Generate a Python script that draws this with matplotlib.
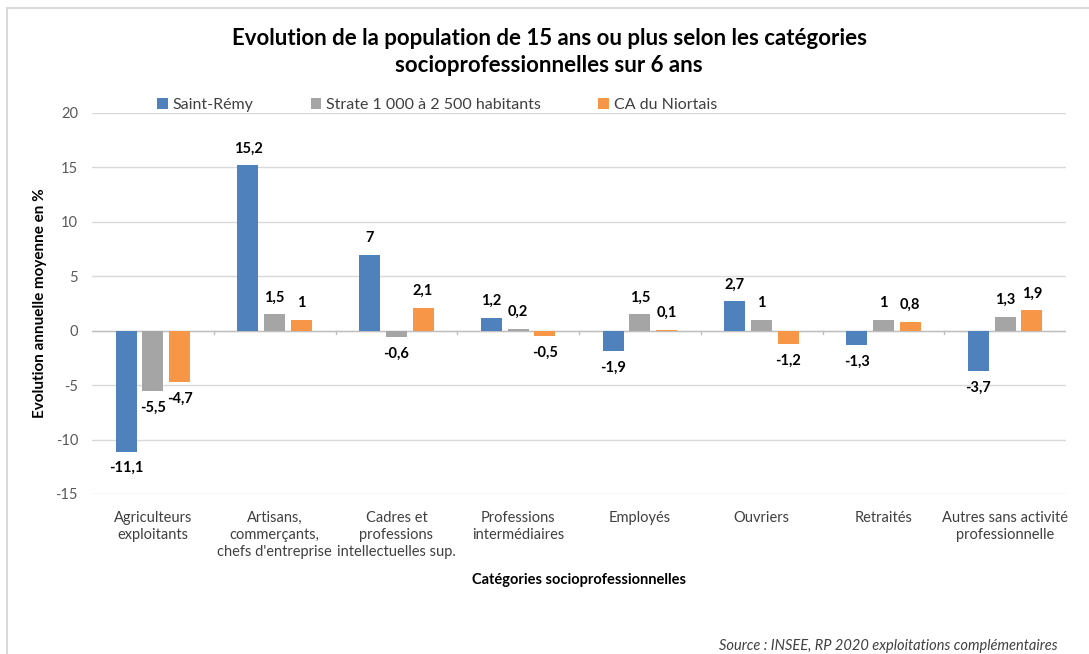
import matplotlib
matplotlib.use("Agg")
import matplotlib.pyplot as plt
import numpy as np
from matplotlib.patches import Rectangle

plt.rcParams['font.family'] = ['Lato', 'DejaVu Sans']

categories = ["Agriculteurs\nexploitants", "Artisans,\ncommerçants,\nchefs d'entreprise",
              "Cadres et\nprofessions\nintellectuelles sup.", "Professions\nintermédiaires",
              "Employés", "Ouvriers", "Retraités", "Autres sans activité\nprofessionnelle"]
series_names = ["Saint-Rémy", "Strate 1 000 à 2 500 habitants", "CA du Niortais"]
saint_remy = [-11.1, 15.2, 7, 1.2, -1.9, 2.7, -1.3, -3.7]
strate = [-5.5, 1.5, -0.6, 0.2, 1.5, 1, 1, 1.3]
ca_niortais = [-4.7, 1, 2.1, -0.5, 0.1, -1.2, 0.8, 1.9]
colors = ["#4F81BD", "#A5A5A5", "#F79646"]
yticks = [-15, -10, -5, 0, 5, 10, 15, 20]

fig = plt.figure(figsize=(10.89, 6.54), dpi=100)
fig.patches.append(Rectangle((7/1089, -0.1), 1.2, 1 - 8/654 + 0.1, transform=fig.transFigure,
                             fill=False, edgecolor="#D9D9D9", linewidth=1.5))
ax = fig.add_axes([92/1089, 1 - 494/654, (1066 - 92)/1089, (494 - 113)/654])

x = np.arange(len(categories))
width = 0.172
offs = [-0.219, 0, 0.219]
data = [saint_remy, strate, ca_niortais]

def fmt(v):
    return ("%g" % v).replace(".", ",")

for i, (vals, name, c) in enumerate(zip(data, series_names, colors)):
    ax.bar(x + offs[i], vals, width, color=c, label=name, zorder=3)
    for xi, v in zip(x + offs[i], vals):
        if v >= 0:
            ax.annotate(fmt(v), (xi, v), xytext=(0, 7), textcoords="offset points",
                        ha="center", va="bottom", fontsize=10.5, fontweight="bold", color="black")
        else:
            ax.annotate(fmt(v), (xi, v), xytext=(0, -7), textcoords="offset points",
                        ha="center", va="top", fontsize=10.5, fontweight="bold", color="black")

ax.set_xlim(-0.5, len(categories) - 0.5)
ax.set_ylim(-15, 20)
ax.set_yticks(yticks)
ax.set_yticklabels([str(t) for t in yticks])
ax.grid(axis="y", color="#D9D9D9", linewidth=1, zorder=0)
ax.set_axisbelow(True)
for s in ax.spines.values():
    s.set_visible(False)
ax.axhline(0, color="#BFBFBF", linewidth=1, zorder=2)
for b in np.arange(0.5, len(categories) - 0.5, 1):
    ax.plot([b, b], [0, -0.3], color="#BFBFBF", linewidth=1, zorder=2, clip_on=False)

ax.set_xticks(x)
ax.set_xticklabels(categories, fontsize=10.5, color="#404040", linespacing=1.3, va="top")
ax.tick_params(axis="x", length=0, pad=12)
ax.tick_params(axis="y", length=0, labelsize=10.5, labelcolor="#595959", pad=10)

ax.set_ylabel("Evolution annuelle moyenne en %", fontsize=11, fontweight="bold", labelpad=6)
ax.set_xlabel("Catégories socioprofessionnelles", fontsize=10.5, fontweight="bold", labelpad=10)

fig.text(549/1089, 1 - 52/654, "Evolution de la population de 15 ans ou plus selon les catégories\nsocioprofessionnelles sur 6 ans",
         ha="center", va="center", fontsize=16, fontweight="bold", linespacing=1.4, color="black")

leg = ax.legend(loc="center", bbox_to_anchor=(437/1089, 1 - 105/654), bbox_transform=fig.transFigure,
                ncol=3, frameon=False, fontsize=11.5, handlelength=0.65, handleheight=0.65,
                handletextpad=0.3, columnspacing=3.6)
for t in leg.get_texts():
    t.set_color("#404040")

fig.text(1058/1089, 1 - 646/654, "Source : INSEE, RP 2020 exploitations complémentaires",
         ha="right", va="center", fontsize=10.5, style="italic", color="#404040")

fig.savefig("out.png", dpi=100)
